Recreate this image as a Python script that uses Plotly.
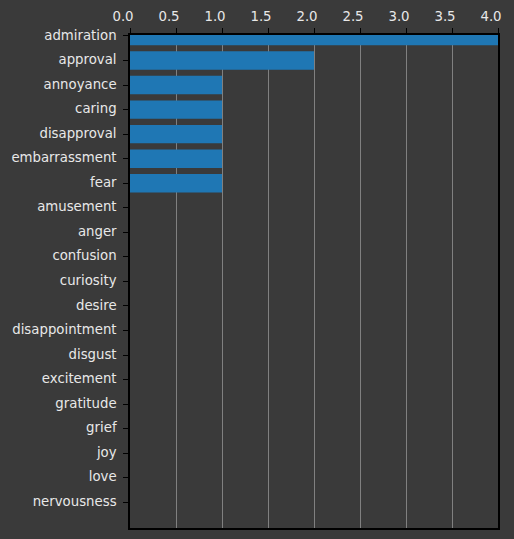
import plotly.graph_objects as go

categories = ["admiration", "approval", "annoyance", "caring", "disapproval",
              "embarrassment", "fear", "amusement", "anger", "confusion",
              "curiosity", "desire", "disappointment", "disgust", "excitement",
              "gratitude", "grief", "joy", "love", "nervousness"]
values = [4, 2, 1, 1, 1, 1, 1, 0, 0, 0, 0, 0, 0, 0, 0, 0, 0, 0, 0, 0]
x_ticks = [0.0, 0.5, 1.0, 1.5, 2.0, 2.5, 3.0, 3.5, 4.0]

bg = "#3a3a3a"
fig = go.Figure(go.Bar(
    x=values, y=categories, orientation="h",
    marker=dict(color="#1f77b4", line=dict(width=0)),
    width=0.75,
))
fig.update_layout(
    width=514, height=539,
    margin=dict(l=130, r=16, t=34, b=9),
    paper_bgcolor=bg, plot_bgcolor=bg,
    font=dict(family="DejaVu Sans", size=13.3, color="#e8e8e8"),
    showlegend=False,
    bargap=0.25,
)
fig.update_xaxes(
    side="top", range=[0, 4], tickvals=x_ticks,
    ticktext=[f"{v:.1f}" for v in x_ticks],
    showgrid=True, gridcolor="#808080", gridwidth=1,
    showline=True, linecolor="black", linewidth=1.5, mirror=True,
    ticks="outside", ticklen=5, tickcolor="black", tickwidth=1,
    ticklabelshift=-7, ticklabelstandoff=2,
    zeroline=False,
)
fig.update_yaxes(
    range=[20.05, -0.04], type="category",
    categoryorder="array", categoryarray=categories,
    showgrid=False,
    showline=True, linecolor="black", linewidth=1.5, mirror=True,
    ticks="outside", ticklen=5, tickcolor="black", tickwidth=1,
    ticklabelstandoff=4, ticklabelshift=1,
    zeroline=False,
)
fig.write_html("out.html")
